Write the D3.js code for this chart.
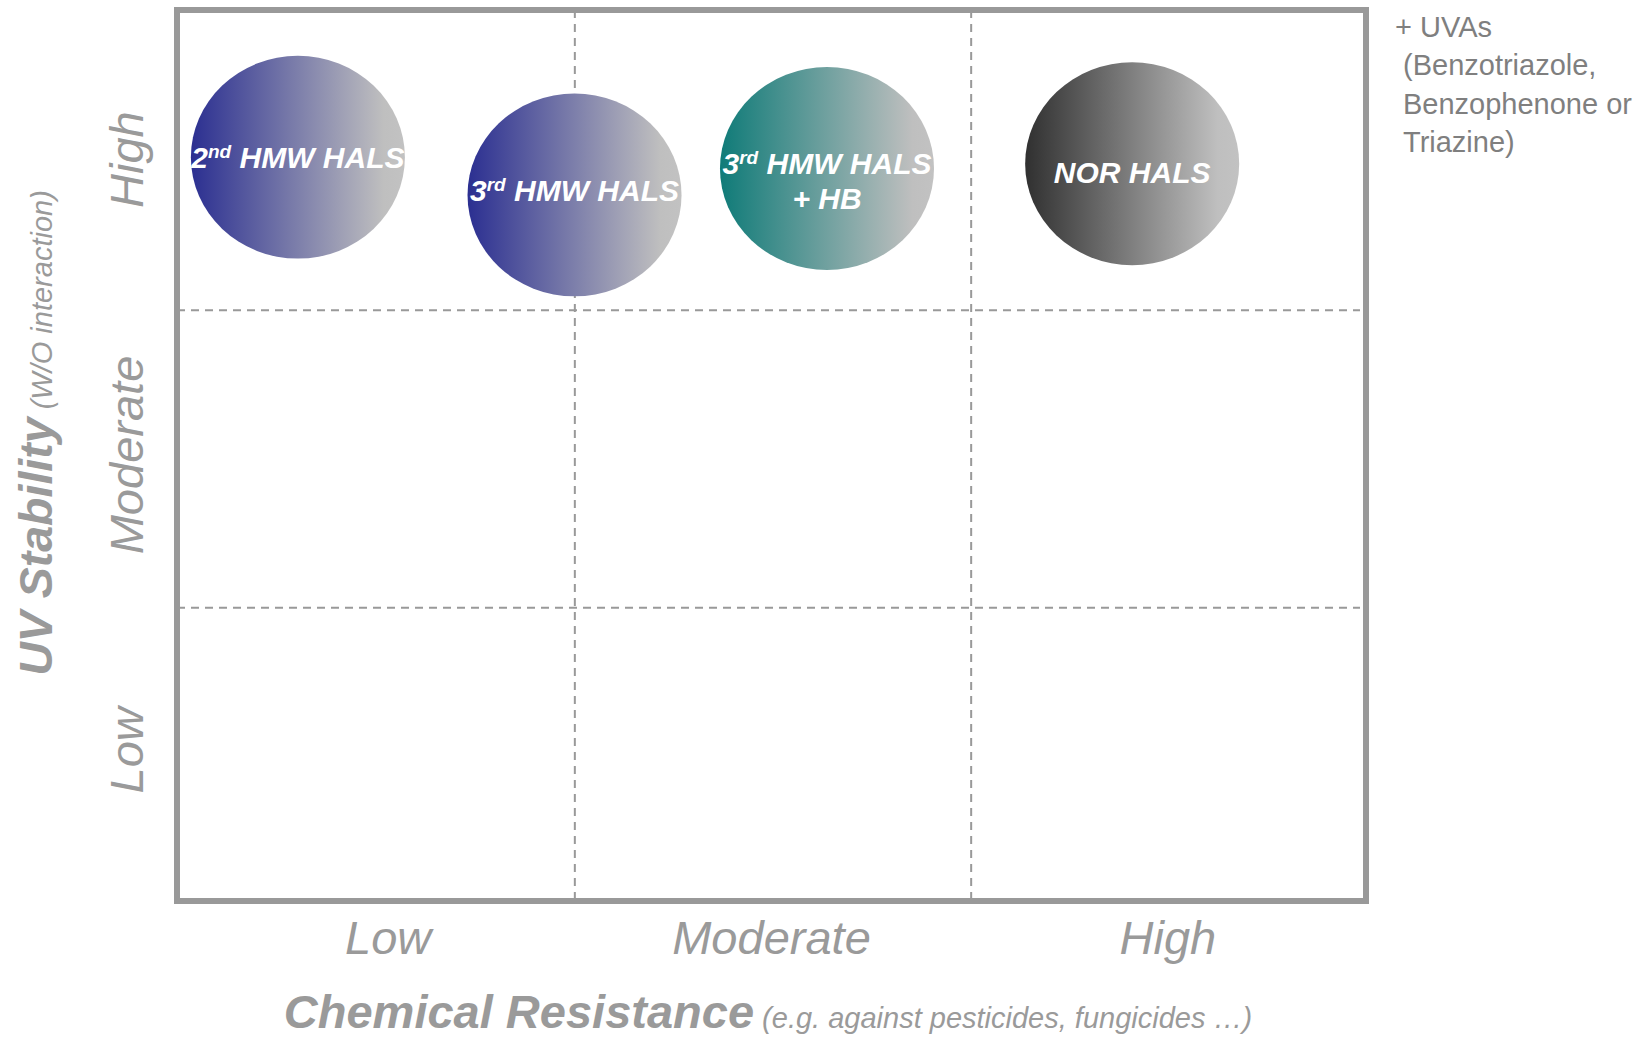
<!DOCTYPE html>
<html>
<head>
<meta charset="utf-8">
<script src="https://cdn.jsdelivr.net/npm/d3@7"></script>
<style>
  html, body { margin: 0; padding: 0; background: #ffffff; }
  svg { display: block; font-family: "Liberation Sans", Arial, sans-serif; }
</style>
</head>
<body>
<svg id="chart" width="1650" height="1038"></svg>
<script>
// Rating levels used on both axes
const levels = ["Low", "Moderate", "High"];

// Stabiliser classes placed on the resistance / stability grid
const names = ["2^nd HMW HALS", "3^rd HMW HALS", "3^rd HMW HALS|+ HB", "NOR HALS"];
const chemicalResistance = [0.305, 1.003, 1.64, 2.41];  // 0..3 along x
const uvStability = [2.515, 2.388, 2.477, 2.493];       // 0..3 along y

// Side note text
const noteLines = ["+ UVAs", "(Benzotriazole,", "Benzophenone or", "Triazine)"];

// ---- layout ----
const frame = { left: 177, right: 1366, top: 10, bottom: 901 };
const bubbleHalfW = 0.27;   // in x units
const bubbleHalfH = 0.341;  // in y units
const labelShift = [0, -5, 12, 8];
const xTickShift = [13, 0, 0];
const startColors = ["#2b2f91", "#2b2f91", "#0f7b78", "#303030"];
const axisGrey = "#9a9a9a";
const fontStack = "'Liberation Sans', Arial, sans-serif";

const svg = d3.select("#chart");

const x = d3.scaleLinear().domain([0, 3]).range([frame.left, frame.right]);
const y = d3.scaleLinear().domain([0, 3]).range([905, 13]);
const xBand = d3.scaleBand().domain(levels).range([frame.left, frame.right]);
const yBand = d3.scaleBand().domain(levels).range([898, 12]);

// gradients
const defs = svg.append("defs");
names.forEach((n, i) => {
  const g = defs.append("linearGradient")
    .attr("id", "grad" + i)
    .attr("x1", 0).attr("y1", 0).attr("x2", 1).attr("y2", 0);
  g.append("stop").attr("offset", 0).attr("stop-color", startColors[i]);
  g.append("stop").attr("offset", 0.9).attr("stop-color", "#bfbfbf");
  g.append("stop").attr("offset", 1).attr("stop-color", "#c2c2c2");
});

// dashed separators between levels
const grid = svg.append("g")
  .attr("stroke", "#999")
  .attr("stroke-width", 2)
  .attr("stroke-dasharray", "8,6")
  .attr("fill", "none");
grid.selectAll("line.v").data([1, 2]).join("line")
  .attr("class", "v")
  .attr("x1", d => x(d) + 1.5).attr("x2", d => x(d) + 1.5)
  .attr("y1", frame.top).attr("y2", frame.bottom);
grid.selectAll("line.h").data([1, 2]).join("line")
  .attr("class", "h")
  .attr("x1", frame.left).attr("x2", frame.right - 6)
  .attr("y1", d => y(d)).attr("y2", d => y(d));

// frame
svg.append("rect")
  .attr("x", frame.left).attr("y", frame.top)
  .attr("width", frame.right - frame.left)
  .attr("height", frame.bottom - frame.top)
  .attr("fill", "none")
  .attr("stroke", "#999")
  .attr("stroke-width", 6);

// bubbles
const bubbles = svg.append("g").selectAll("g")
  .data(names.map((n, i) => ({ name: n, cx: chemicalResistance[i], uv: uvStability[i], i })))
  .join("g");

bubbles.append("ellipse")
  .attr("cx", d => x(d.cx))
  .attr("cy", d => y(d.uv))
  .attr("rx", x(bubbleHalfW) - x(0))
  .attr("ry", y(0) - y(bubbleHalfH))
  .attr("fill", d => `url(#grad${d.i})`);

const fs = 30;
const lineGap = 35;
bubbles.each(function (d) {
  const lines = d.name.split("|");
  const cx = x(d.cx);
  const cy = y(d.uv) + labelShift[d.i];
  const firstBase = cy - (lines.length - 1) * lineGap / 2 + fs * 0.36;
  const t = d3.select(this).append("text")
    .attr("text-anchor", "middle")
    .attr("fill", "#ffffff")
    .attr("font-weight", "bold")
    .attr("font-style", "italic")
    .attr("font-size", fs);
  lines.forEach((ln, li) => {
    const line = t.append("tspan").attr("x", cx).attr("y", firstBase + li * lineGap);
    const m = ln.match(/^(\d)\^(\w+)(.*)$/);
    if (m) {
      line.text(m[1]);
      t.append("tspan").attr("font-size", 19).attr("dy", -10).text(m[2]);
      t.append("tspan").attr("dy", 10).text(m[3]);
    } else {
      line.text(ln);
    }
  });
});

// bottom level labels
const xAxis = svg.append("g")
  .attr("transform", `translate(0,954)`)
  .call(d3.axisBottom(xBand).tickSize(0).tickPadding(0));
xAxis.select(".domain").remove();
xAxis.selectAll("text")
  .attr("x", (d, i) => xTickShift[i])
  .attr("y", 0).attr("dy", 0)
  .attr("fill", axisGrey)
  .attr("font-size", 47)
  .attr("font-style", "italic")
  .attr("font-family", fontStack);

// left level labels (rotated)
const yAxis = svg.append("g")
  .attr("transform", `translate(143,0)`)
  .call(d3.axisLeft(yBand).tickSize(0).tickPadding(0));
yAxis.select(".domain").remove();
yAxis.selectAll("text")
  .attr("x", 0).attr("dy", 0)
  .attr("text-anchor", "middle")
  .attr("transform", "rotate(-90)")
  .attr("fill", axisGrey)
  .attr("font-size", 47)
  .attr("font-style", "italic")
  .attr("font-family", fontStack);

// axis titles
const xTitle = svg.append("text")
  .attr("x", 768).attr("y", 1028)
  .attr("text-anchor", "middle")
  .attr("fill", axisGrey)
  .attr("font-style", "italic");
xTitle.append("tspan").attr("font-weight", "bold").attr("font-size", 47).text("Chemical Resistance");
xTitle.append("tspan").attr("font-size", 29).text(" (e.g. against pesticides, fungicides …)");

const yTitle = svg.append("text")
  .attr("transform", "translate(52,433) rotate(-90)")
  .attr("text-anchor", "middle")
  .attr("fill", axisGrey)
  .attr("font-style", "italic");
yTitle.append("tspan").attr("font-weight", "bold").attr("font-size", 46.5).text("UV Stability");
yTitle.append("tspan").attr("font-size", 29).text(" (W/O interaction)");

// side note
const note = svg.append("text")
  .attr("fill", "#7f7f7f")
  .attr("font-size", 29);
note.selectAll("tspan").data(noteLines).join("tspan")
  .attr("x", (d, i) => i === 0 ? 1395 : 1403)
  .attr("y", (d, i) => 36.5 + i * 38.5)
  .text(d => d);
</script>
</body>
</html>
